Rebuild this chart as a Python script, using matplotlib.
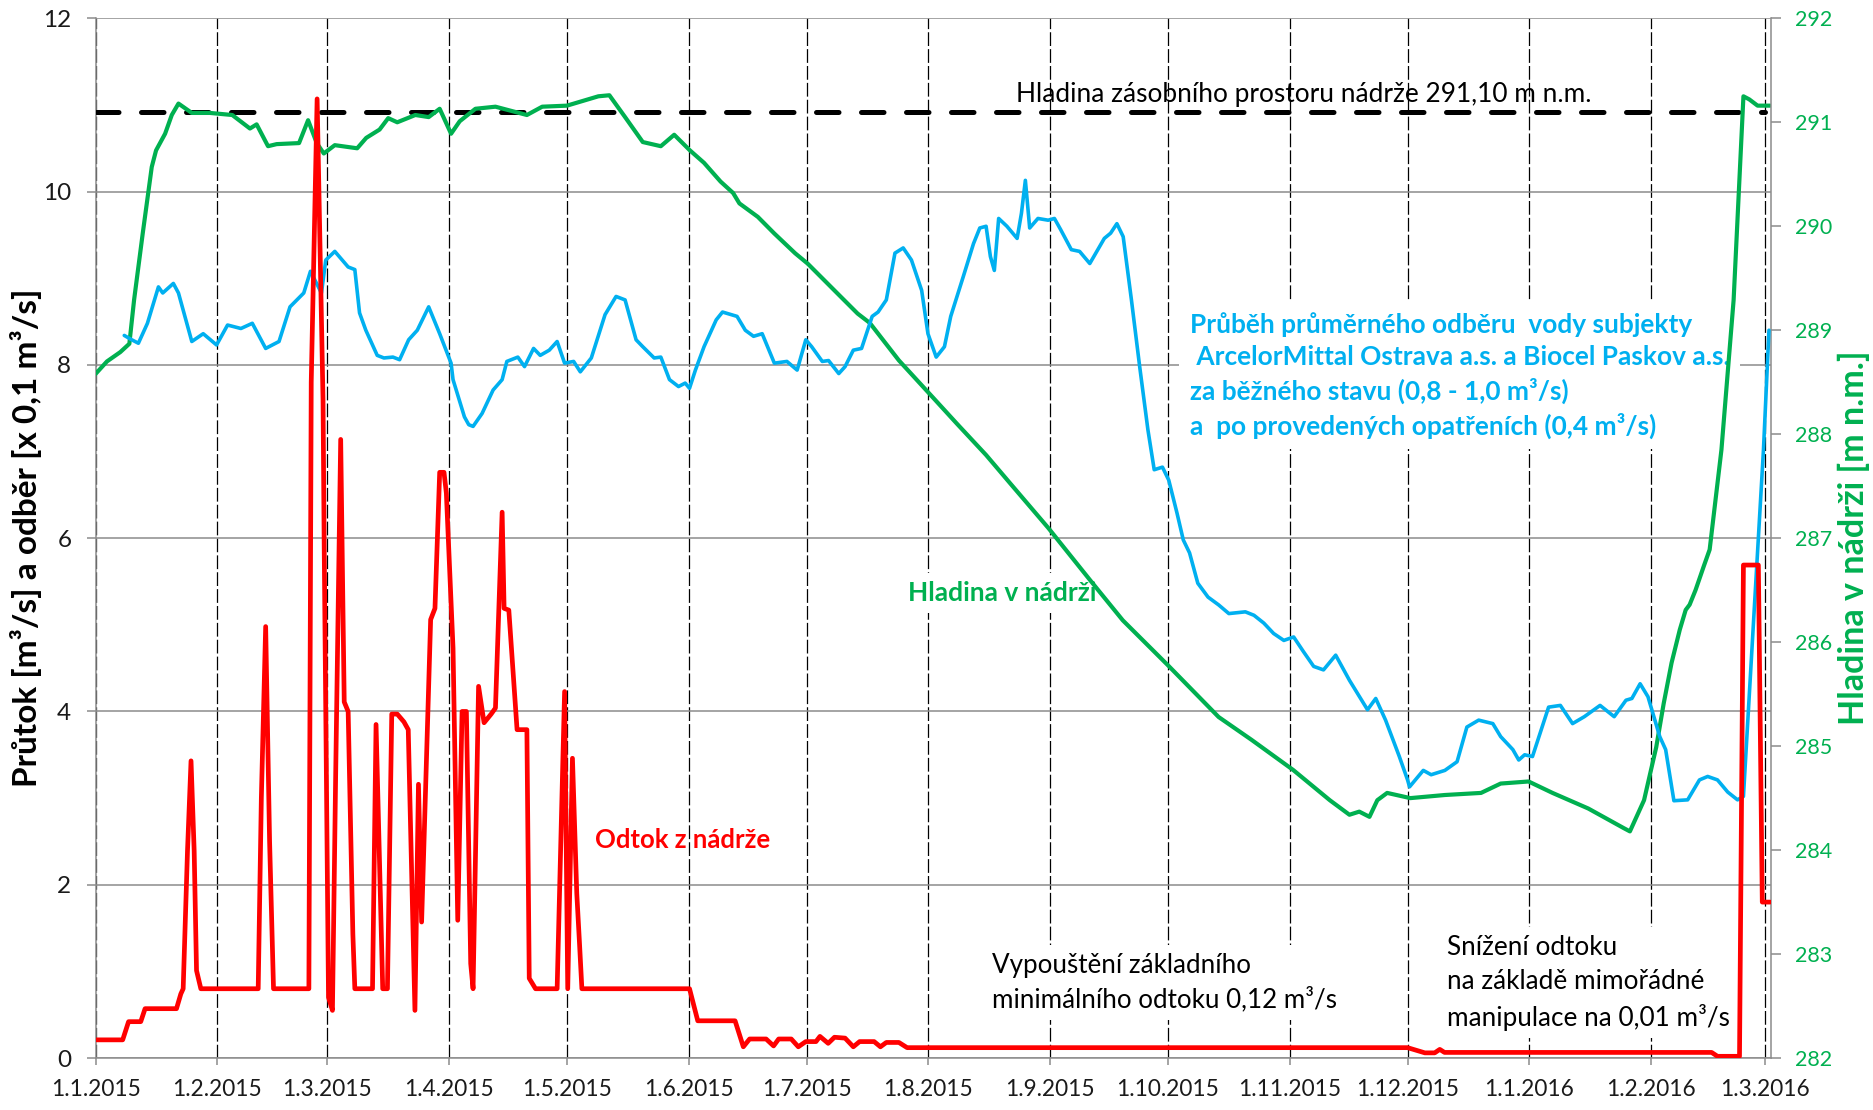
import matplotlib
matplotlib.use("Agg")
import matplotlib.pyplot as plt
import matplotlib.dates as mdates
import matplotlib.ticker as mticker
import pandas as pd

plt.rcParams['font.family'] = ['Lato', 'DejaVu Sans']

START = pd.Timestamp("2015-01-01")

# ---------------- data (days since 1.1.2015) ----------------
# Odtok z nádrže [m3/s]
outflow_day = [0, 6.9, 8.4, 11.5, 12.6, 20.6, 21.7, 22.3, 23.4, 24.3, 25.1, 25.7, 26.8,
               41.4, 42.2, 43.3, 44.3, 45.3, 54.3, 54.9, 56.4, 57.9, 58.2, 59.3, 60.3,
               61.1, 62.4, 63.0, 63.3, 64.3, 65.5, 66.0, 70.5, 71.4, 73.1, 74.3, 75.4,
               76.8, 78.5, 79.6, 81.3, 82.2, 83.0, 85.3, 86.4, 87.6, 88.7, 89.3, 91.0,
               92.2, 93.3, 94.4, 95.5, 96.1, 97.5, 98.9, 100.7, 101.8, 103.5, 104.0,
               105.2, 107.3, 109.8, 110.4, 112.0, 117.5, 119.4, 120.2, 121.4, 122.5,
               123.2, 123.8, 151.2, 153.3, 162.8, 164.9, 166.5, 170.7, 172.6, 173.9,
               177.1, 178.9, 180.8, 183.4, 184.4, 186.5, 188.1, 190.8, 192.9, 194.5,
               198.2, 199.8, 201.3, 204.5, 206.6, 334.0, 338.4, 340.9, 342.2, 343.4,
               411.4, 412.9, 418.5, 419.5, 423.3, 424.3, 426.3]
outflow = [0.21, 0.21, 0.42, 0.42, 0.57, 0.57, 0.74, 0.80, 2.39, 3.43, 2.39, 1.01, 0.80,
           0.80, 3.0, 4.98, 2.5, 0.80, 0.80, 7.8, 11.07, 7.6, 5.9, 0.7, 0.55,
           3.2, 7.14, 5.10, 4.11, 4.0, 1.43, 0.80, 0.80, 3.85, 0.80, 0.80, 3.97,
           3.97, 3.88, 3.79, 0.55, 3.16, 1.57, 5.06, 5.19, 6.76, 6.76, 6.52, 4.73,
           1.59, 4.0, 4.0, 1.09, 0.80, 4.29, 3.87, 3.97, 4.04, 6.30, 5.19,
           5.17, 3.79, 3.79, 0.92, 0.80, 0.80, 4.23, 0.80, 3.46, 1.9,
           1.32, 0.80, 0.80, 0.43, 0.43, 0.13, 0.22, 0.22, 0.14, 0.22,
           0.22, 0.13, 0.19, 0.19, 0.25, 0.17, 0.24, 0.23, 0.13, 0.19,
           0.19, 0.13, 0.18, 0.18, 0.12, 0.12, 0.06, 0.06, 0.10, 0.065,
           0.065, 0.02, 0.02, 5.69, 5.69, 1.80, 1.80]

# Průměrný odběr vody [x 0,1 m3/s]
withdrawal_day = [7.3, 9.2, 10.9, 13.2, 16.0, 17.1, 19.8, 21.1, 24.5, 27.4, 30.8, 33.6,
                  37.0, 39.9, 43.3, 46.7, 49.5, 53.0, 54.7, 57.5, 58.6, 60.9, 64.3, 66.0,
                  67.2, 68.8, 71.7, 73.4, 75.7, 77.4, 79.7, 81.9, 84.8, 87.6, 90.5, 91.0,
                  93.9, 95.0, 96.1, 98.4, 101.2, 103.5, 104.7, 107.5, 109.2, 111.5, 113.2,
                  115.5, 117.5, 119.4, 121.7, 123.4, 126.2, 129.7, 132.5, 134.8, 137.6,
                  139.3, 142.2, 143.9, 146.1, 148.4, 150.1, 151.2, 152.7, 154.9, 158.0,
                  159.6, 163.3, 165.4, 167.5, 169.7, 170.7, 172.8, 176.0, 178.6, 180.8,
                  182.3, 185.0, 186.6, 189.2, 190.8, 192.9, 195.0, 197.7, 199.2, 201.3,
                  203.5, 205.6, 207.7, 210.3, 211.9, 214.0, 216.1, 217.7, 220.9, 223.5,
                  225.1, 226.7, 227.8, 228.8, 229.9, 232.0, 234.6, 235.7, 236.7, 237.8,
                  239.9, 242.5, 244.1, 245.7, 248.4, 250.5, 253.1, 256.8, 258.4, 260.0,
                  261.6, 263.7, 265.8, 267.9, 269.5, 271.6, 273.2, 275.3, 276.9, 278.5,
                  280.6, 283.2, 285.9, 288.5, 292.7, 294.9, 297.4, 299.9, 302.5, 305.0,
                  307.5, 310.1, 312.6, 315.7, 319.2, 323.8, 325.9, 328.4, 331.9, 334.0,
                  334.5, 338.0, 340.0, 343.5, 346.6, 349.1, 352.1, 355.7, 357.7, 360.8,
                  362.3, 363.8, 365.8, 369.9, 372.9, 376.0, 379.0, 383.0, 386.6, 389.6,
                  391.1, 393.2, 395.2, 398.2, 399.7, 401.8, 405.3, 408.3, 410.4, 412.9,
                  415.5, 418.0, 419.5, 424.6, 426.0]
withdrawal = [8.34, 8.29, 8.25, 8.48, 8.90, 8.83, 8.94, 8.83, 8.27, 8.36, 8.23, 8.46,
              8.42, 8.48, 8.19, 8.27, 8.67, 8.83, 9.08, 8.83, 9.21, 9.31, 9.13, 9.10,
              8.60, 8.40, 8.11, 8.08, 8.09, 8.06, 8.29, 8.40, 8.67, 8.36, 8.02, 7.83,
              7.40, 7.31, 7.29, 7.44, 7.71, 7.83, 8.04, 8.09, 7.98, 8.19, 8.11,
              8.17, 8.27, 8.02, 8.04, 7.92, 8.08, 8.58, 8.79, 8.75, 8.29,
              8.21, 8.08, 8.09, 7.83, 7.75, 7.79, 7.73, 7.94, 8.21, 8.52,
              8.61, 8.56, 8.40, 8.33, 8.36, 8.25, 8.02, 8.04, 7.94, 8.29,
              8.21, 8.04, 8.05, 7.90, 7.98, 8.17, 8.19, 8.56, 8.61, 8.75,
              9.29, 9.35, 9.21, 8.86, 8.36, 8.09, 8.21, 8.56, 9.02, 9.40,
              9.58, 9.60, 9.25, 9.09, 9.69, 9.60, 9.46, 9.75, 10.13, 9.58,
              9.69, 9.67, 9.69, 9.56, 9.33, 9.31, 9.17, 9.46, 9.52, 9.63,
              9.48, 8.75, 7.98, 7.25, 6.79, 6.82, 6.67, 6.29, 5.98, 5.83,
              5.48, 5.32, 5.23, 5.13, 5.15, 5.11, 5.02, 4.90, 4.82, 4.86,
              4.69, 4.52, 4.48, 4.65, 4.36, 4.02, 4.15, 3.90, 3.48, 3.21,
              3.13, 3.32, 3.27, 3.32, 3.42, 3.82, 3.90, 3.86, 3.71, 3.56,
              3.44, 3.50, 3.48, 4.05, 4.07, 3.86, 3.94, 4.07, 3.94, 4.13,
              4.15, 4.32, 4.17, 3.71, 3.56, 2.97, 2.98, 3.21, 3.25, 3.21,
              3.07, 2.98, 3.02, 7.02, 8.40]

# Hladina v nádrži [m n.m.]
level_day = [0.0, 2.9, 6.3, 8.6, 9.8, 12.0, 14.3, 15.4, 17.7, 19.4, 21.1, 24.5, 29.1,
             34.8, 39.3, 41.0, 43.9, 46.1, 51.8, 54.1, 56.3, 58.1, 60.9, 66.6, 68.9,
             72.3, 74.5, 76.8, 81.4, 84.8, 87.6, 90.5, 92.7, 96.7, 101.8, 109.8, 113.7,
             120.0, 128.0, 130.8, 134.8, 139.3, 143.9, 147.3, 151.3, 154.9, 159.1,
             162.3, 163.9, 168.6, 172.8, 178.1, 181.3, 188.7, 194.0, 197.1, 204.5,
             213.0, 219.3, 226.7, 233.0, 242.5, 253.1, 261.5, 273.2, 285.9, 294.3,
             304.9, 314.2, 319.2, 321.7, 324.3, 326.3, 328.8, 334.7, 343.5, 352.7,
             357.7, 364.8, 370.9, 380.0, 389.1, 390.6, 394.2, 397.3, 399.2, 401.2,
             403.3, 404.8, 405.8, 407.3, 409.4, 410.9, 411.9, 412.9, 413.9, 417.0,
             419.5, 421.0, 423.1, 426.3]
level = [288.58, 288.70, 288.79, 288.87, 289.29, 289.93, 290.57, 290.73, 290.89, 291.07,
         291.18, 291.09, 291.09, 291.07, 290.94, 290.98, 290.77, 290.79, 290.80, 291.02,
         290.80, 290.70, 290.78, 290.75, 290.85, 290.93, 291.04, 291.00, 291.07, 291.05,
         291.13, 290.89, 291.01, 291.13, 291.15, 291.07, 291.15, 291.16, 291.25, 291.26,
         291.05, 290.81, 290.77, 290.88, 290.73, 290.61, 290.43, 290.32, 290.22, 290.09,
         289.93, 289.74, 289.64, 289.36, 289.16, 289.07, 288.71, 288.36, 288.10, 287.80,
         287.52, 287.10, 286.60, 286.21, 285.77, 285.28, 285.06, 284.77, 284.48, 284.34,
         284.37, 284.32, 284.48, 284.55, 284.50, 284.53, 284.55, 284.64, 284.66, 284.55,
         284.40, 284.21, 284.18, 284.48, 284.99, 285.41, 285.80, 286.12, 286.31, 286.36,
         286.50, 286.73, 286.89, 287.21, 287.53, 287.85, 289.29, 291.25, 291.22, 291.16,
         291.16]

# Hladina zásobního prostoru nádrže
storage_day = [0, 425]
storage_level = 291.10

month_label_fmt = "{d}.{m}.{y}"

GREEN = '#00B050'
BLUE = '#00B0F0'
RED = '#FF0000'
GRID = '#8C8C8C'


def to_dates(days):
    return [START + pd.Timedelta(days=float(d)) for d in days]


fig = plt.figure(figsize=(18.74, 11.10), dpi=100)
ax1 = fig.add_axes([0.0510, 0.0468, 0.8940, 0.9367])
ax2 = ax1.twinx()

# lines (all drawn in ax2 so that they sit above the text boxes and grid of ax1)
ax2.plot(to_dates(storage_day), [storage_level] * len(storage_day), color='black', lw=3.6,
         ls=(0, (4.5, 4.5)), dash_capstyle='round', zorder=1)
ax2.plot(to_dates(level_day), level, color=GREEN, lw=3.0, zorder=2,
         solid_joinstyle='round', solid_capstyle='round')
ax2.plot(to_dates(withdrawal_day), withdrawal, color=BLUE, lw=2.6, zorder=3,
         transform=ax1.transData, solid_joinstyle='round', solid_capstyle='round')
ax2.plot(to_dates(outflow_day), outflow, color=RED, lw=3.4, zorder=4,
         transform=ax1.transData, solid_joinstyle='round', solid_capstyle='round')

ax1.set_xlim(START, START + pd.Timedelta(days=426.5))
ax1.set_ylim(0, 12)
ax2.set_ylim(282, 292)

# grid
ax1.set_axisbelow(True)
ax1.grid(axis='y', color=GRID, lw=1.1, ls='-')
ax1.grid(axis='x', color='black', lw=0.9, ls=(0, (11, 2.5)))

# ticks
ax1.xaxis.set_major_locator(mdates.MonthLocator())


def fmt_date(v, p):
    d = mdates.num2date(v)
    return month_label_fmt.format(d=d.day, m=d.month, y=d.year)


ax1.xaxis.set_major_formatter(mticker.FuncFormatter(fmt_date))
ax1.set_yticks(range(0, 13, 2))
ax2.set_yticks(range(282, 293))
ax1.tick_params(axis='y', direction='out', length=6.5, width=1.1, color=GRID,
                labelsize=17.5, pad=11, labelcolor='#1a1a1a')
ax1.tick_params(axis='x', direction='out', length=5, width=1.1, color=GRID,
                labelsize=16.3, pad=10, labelcolor='#1a1a1a')
ax2.tick_params(axis='y', direction='out', length=7.5, width=1.1, color=GRID,
                labelsize=15.5, pad=10, labelcolor=GREEN)

for s in ['top', 'right']:
    ax1.spines[s].set_visible(False)
for s in ['left', 'bottom']:
    ax1.spines[s].set_color(GRID)
    ax1.spines[s].set_linewidth(1.1)
for s in ['top', 'left', 'bottom']:
    ax2.spines[s].set_visible(False)
ax2.spines['right'].set_color(GRID)
ax2.spines['right'].set_linewidth(1.1)

# annotations
def D(day):
    return START + pd.Timedelta(days=day)

ax1.text(D(234.3), 11.12, "Hladina zásobního prostoru nádrže 291,10 m n.m.",
         fontsize=18.9, ha='left', va='center', color='black', zorder=1.5)

ax1.text(D(278.6), 7.88,
         "Průběh průměrného odběru  vody subjekty\n"
         " ArcelorMittal Ostrava a.s. a Biocel Paskov a.s.\n"
         "za běžného stavu (0,8 - 1,0 m³/s)\n"
         "a  po provedených opatřeních (0,4 m³/s)",
         fontsize=18.9, fontweight='bold', color=BLUE, ha='left', va='center',
         linespacing=1.40, zorder=1.5,
         bbox=dict(boxstyle='square,pad=0.4', fc='white', ec='none'))

ax1.text(D(230.9), 5.37, "Hladina v nádrži", fontsize=19, fontweight='bold',
         color=GREEN, ha='center', va='center', zorder=1.5,
         bbox=dict(boxstyle='square,pad=0.3', fc='white', ec='none'))

ax1.text(D(149.4), 2.52, "Odtok z nádrže", fontsize=18.5, fontweight='bold',
         color=RED, ha='center', va='center', zorder=1.5)

ax1.text(D(228.2), 0.87, "Vypouštění základního\nminimálního odtoku 0,12 m³/s",
         fontsize=18.7, color='black', ha='left', va='center', linespacing=1.45,
         zorder=1.5, bbox=dict(boxstyle='square,pad=0.3', fc='white', ec='none'))

ax1.text(D(344.1), 0.87, "Snížení odtoku\nna základě mimořádné\nmanipulace na 0,01 m³/s",
         fontsize=18.8, color='black', ha='left', va='center', linespacing=1.45,
         zorder=1.5, bbox=dict(boxstyle='square,pad=0.3', fc='white', ec='none'))

# axis titles
fig.text(26.5 / 1874, 1 - 538 / 1110, "Průtok [m³/s] a odběr [x 0,1 m³/s]", rotation=90,
         ha='center', va='center', fontsize=24, fontweight='bold', color='black')
fig.text(1853.5 / 1874, 1 - 538 / 1110, "Hladina v nádrži [m n.m.]", rotation=90,
         ha='center', va='center', fontsize=24.5, fontweight='bold', color=GREEN)

fig.savefig('out.png', dpi=100)
